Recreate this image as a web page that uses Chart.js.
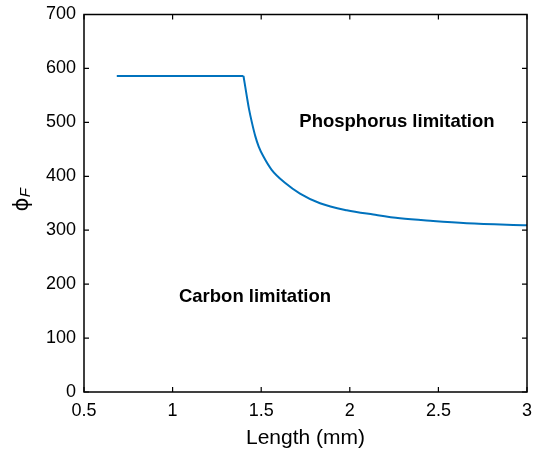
<!DOCTYPE html>
<html>
<head>
<meta charset="utf-8">
<script src="https://cdn.jsdelivr.net/npm/chart.js@4/dist/chart.umd.min.js"></script>
<style>
  html, body { margin: 0; padding: 0; background: #fff; }
  #wrap { width: 533px; height: 453px; }
</style>
</head>
<body>
<div id="wrap"><canvas id="chart"></canvas></div>
<script>
// values
const lengths = [0.685, 1.40, 1.42, 1.431, 1.448, 1.467, 1.486, 1.512, 1.559, 1.634, 1.719, 1.832, 1.983, 2.133, 2.283, 2.47, 2.66, 3.0];
const phiF    = [586,   586,  546,  525,   499,   474,   455,   437,   412,   388,   368,   350,   337,   329,   322,   317,  313,  309];
const xTicks = [0.5, 1, 1.5, 2, 2.5, 3];
const yTicks = [0, 100, 200, 300, 400, 500, 600, 700];
const regionLabels = [
  { text: 'Phosphorus limitation', x: 2.266, y: 501 },
  { text: 'Carbon limitation', x: 1.465, y: 176 }
];

const font = '"Liberation Sans", Arial, Helvetica, sans-serif';
const pts = lengths.map((v, i) => ({ x: v, y: phiF[i] }));

// box, inward ticks, region texts and y title
const decor = {
  id: 'decor',
  afterDatasetsDraw(chart) {
    const { ctx, chartArea: a, scales: { x, y } } = chart;
    ctx.save();
    ctx.strokeStyle = '#000';
    ctx.lineWidth = 1.5;
    ctx.strokeRect(a.left, a.top, a.right - a.left, a.bottom - a.top);
    ctx.lineWidth = 1.2;
    const t = 5;
    ctx.beginPath();
    xTicks.forEach(v => {
      const px = x.getPixelForValue(v);
      ctx.moveTo(px, a.bottom); ctx.lineTo(px, a.bottom - t);
      ctx.moveTo(px, a.top); ctx.lineTo(px, a.top + t);
    });
    yTicks.forEach(v => {
      const py = y.getPixelForValue(v);
      ctx.moveTo(a.left, py); ctx.lineTo(a.left + t, py);
      ctx.moveTo(a.right, py); ctx.lineTo(a.right - t, py);
    });
    ctx.stroke();

    ctx.fillStyle = '#000';
    ctx.font = 'bold 18.5px ' + font;
    ctx.textAlign = 'center';
    ctx.textBaseline = 'middle';
    regionLabels.forEach(l => {
      ctx.fillText(l.text, x.getPixelForValue(l.x), y.getPixelForValue(l.y));
    });

    // y axis title: phi with subscript F
    ctx.translate(28, 200);
    ctx.rotate(-Math.PI / 2);
    ctx.textAlign = 'left';
    ctx.textBaseline = 'alphabetic';
    ctx.font = '21px "DejaVu Sans", ' + font;
    const w1 = ctx.measureText('\u03d5').width;
    ctx.font = 'italic 15px ' + font;
    const w2 = ctx.measureText('F').width;
    const x0 = -(w1 + w2) / 2;
    ctx.font = '21px "DejaVu Sans", ' + font;
    ctx.fillText('\u03d5', x0, 0);
    ctx.font = 'italic 15px ' + font;
    ctx.fillText('F', x0 + w1 + 0.5, 2);
    ctx.restore();
  }
};

new Chart(document.getElementById('chart'), {
  type: 'scatter',
  data: {
    datasets: [{
      data: pts.slice(0, 2),
      showLine: true,
      borderColor: '#0072BD',
      borderWidth: 2,
      pointRadius: 0
    }, {
      data: pts.slice(1),
      showLine: true,
      borderColor: '#0072BD',
      borderWidth: 2,
      pointRadius: 0,
      cubicInterpolationMode: 'monotone'
    }]
  },
  options: {
    responsive: true,
    maintainAspectRatio: false,
    animation: false,
    layout: { padding: 0 },
    plugins: { legend: { display: false }, tooltip: { enabled: false } },
    scales: {
      x: {
        type: 'linear',
        min: 0.5, max: 3,
        afterBuildTicks: s => { s.ticks = xTicks.map(v => ({ value: v })); },
        afterFit: s => { s.height = 61; s.paddingRight = 6; },
        grid: { display: false, drawTicks: false },
        border: { display: false },
        ticks: { color: '#000', padding: 8, font: { size: 18, family: font }, callback: v => String(v) },
        title: { display: true, text: 'Length (mm)', color: '#000', padding: { top: 0, bottom: 2 }, font: { size: 21, family: font } }
      },
      y: {
        min: 0, max: 700,
        afterBuildTicks: s => { s.ticks = yTicks.map(v => ({ value: v })); },
        afterFit: s => { s.width = 84; s.paddingTop = 14.5; },
        grid: { display: false, drawTicks: false },
        border: { display: false },
        ticks: { color: '#000', padding: 8, font: { size: 18, family: font }, callback: v => String(v) }
      }
    }
  },
  plugins: [decor]
});
</script>
</body>
</html>
